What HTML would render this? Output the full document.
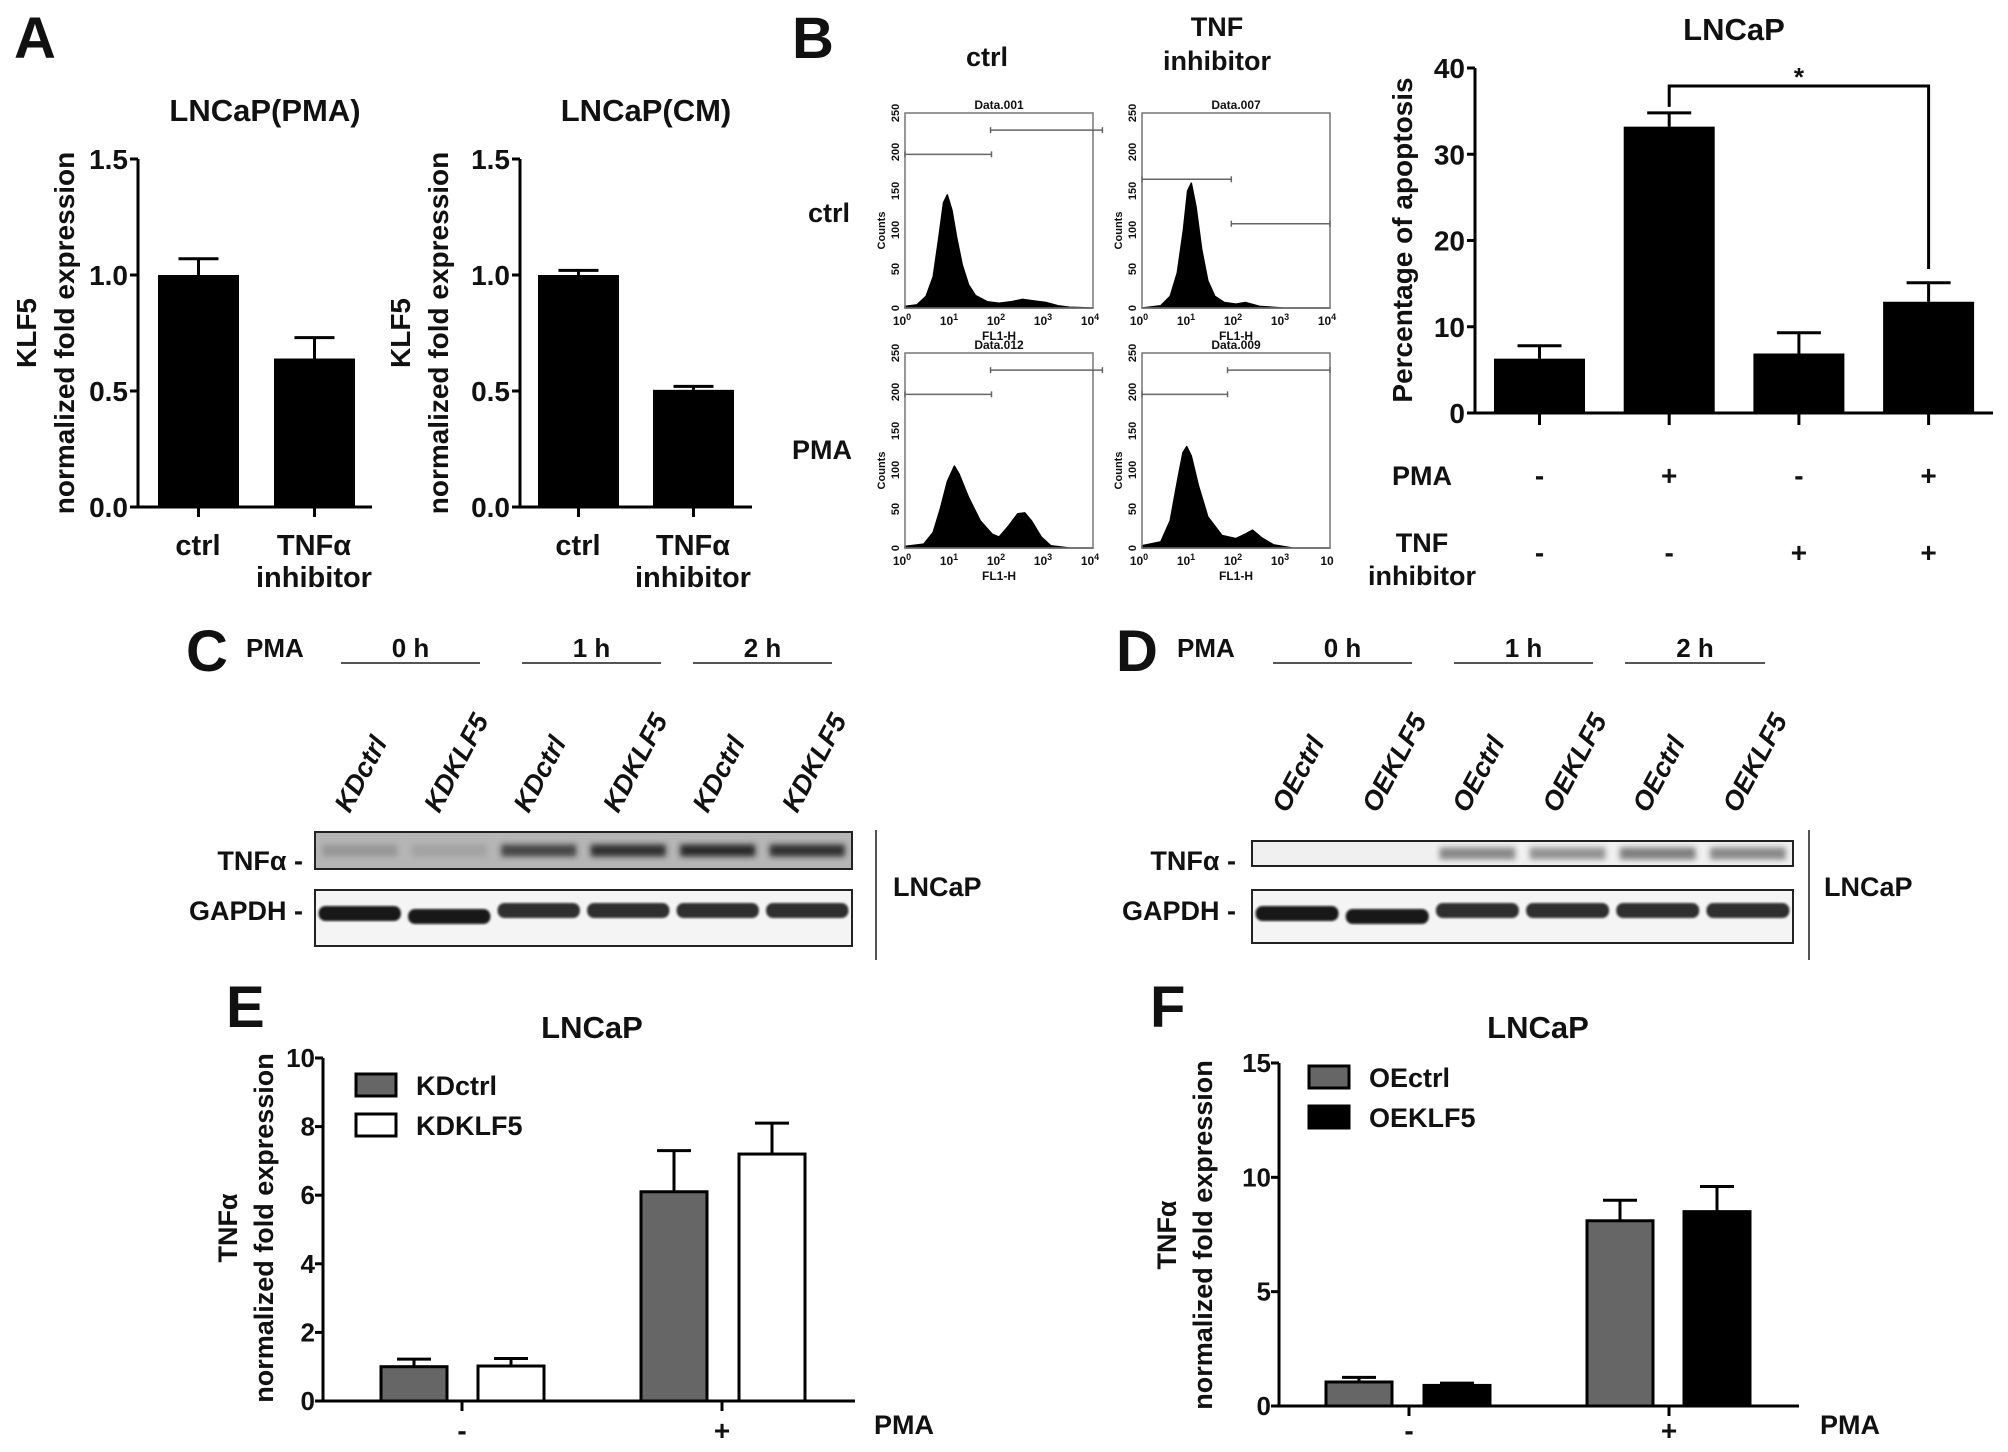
<!DOCTYPE html>
<html><head><meta charset="utf-8"><style>
html,body{margin:0;padding:0;background:#fff}
svg{display:block}
text{font-family:"Liberation Sans",Arial,sans-serif;font-weight:bold;fill:#111}
</style></head><body>
<svg id="fig" xmlns="http://www.w3.org/2000/svg" width="2008" height="1452" viewBox="0 0 2008 1452">
<defs>
<filter id="blur3" x="-20%" y="-50%" width="140%" height="200%"><feGaussianBlur stdDeviation="3"/></filter>
<filter id="blur1"><feGaussianBlur stdDeviation="1"/></filter>
</defs>
<g id="root"></g>
</svg>
<script>
// ---------- data ----------
var aCats = ["ctrl", "TNFα inhibitor"];
var aPmaVals = [1.0, 0.64];
var aPmaErr = [0.07, 0.09];
var aCmVals = [1.0, 0.505];
var aCmErr = [0.02, 0.015];
var aTicks = [0, 0.5, 1.0, 1.5];
var aTickLabels = ["0.0", "0.5", "1.0", "1.5"];

var apoVals = [6.3, 33.2, 6.9, 12.9];
var apoErr = [1.5, 1.6, 2.4, 2.2];
var apoPma = ["-", "+", "-", "+"];
var apoTnf = ["-", "-", "+", "+"];
var apoTicks = [0, 10, 20, 30, 40];

var eGroups = ["-", "+"];
var eSeries = ["KDctrl", "KDKLF5"];
var eVals0 = [1.0, 6.1];
var eErr0 = [0.22, 1.2];
var eVals1 = [1.02, 7.2];
var eErr1 = [0.22, 0.9];
var eTicks = [0, 2, 4, 6, 8, 10];

var fSeries = ["OEctrl", "OEKLF5"];
var fVals0 = [1.05, 8.1];
var fErr0 = [0.2, 0.9];
var fVals1 = [0.9, 8.5];
var fErr1 = [0.1, 1.1];
var fTicks = [0, 5, 10, 15];

// flow histograms (log10 FL1-H position, counts)
var h1x = [0, 0.25, 0.45, 0.6, 0.72, 0.82, 0.9, 1.0, 1.1, 1.22, 1.35, 1.5, 1.75, 2.0, 2.25, 2.5, 2.75, 3.0, 3.25, 3.5, 4];
var h1y = [2, 4, 15, 40, 90, 135, 145, 125, 90, 55, 30, 16, 8, 6, 8, 11, 9, 7, 3, 1, 0];
var h2x = [0, 0.4, 0.6, 0.75, 0.88, 0.97, 1.05, 1.15, 1.27, 1.4, 1.55, 1.75, 2.0, 2.2, 2.5, 3.0, 4];
var h2y = [0, 3, 15, 45, 100, 150, 160, 130, 75, 35, 15, 7, 5, 7, 2, 0, 0];
var h3x = [0, 0.4, 0.6, 0.75, 0.9, 1.05, 1.15, 1.35, 1.6, 1.85, 2.0, 2.2, 2.4, 2.55, 2.7, 2.9, 3.1, 3.5, 4];
var h3y = [2, 5, 20, 50, 85, 105, 95, 65, 35, 18, 14, 28, 44, 45, 34, 14, 3, 0, 0];
var h4x = [0, 0.4, 0.6, 0.75, 0.87, 0.95, 1.05, 1.2, 1.4, 1.7, 2.0, 2.2, 2.35, 2.55, 2.8, 3.2, 4];
var h4y = [3, 8, 35, 85, 122, 130, 118, 80, 40, 16, 12, 18, 23, 13, 4, 0, 0];

// ---------- helpers ----------
var NS = "http://www.w3.org/2000/svg";
var root = document.getElementById("root");
function el(tag, attrs, parent) {
  var e = document.createElementNS(NS, tag);
  for (var k in attrs) e.setAttribute(k, attrs[k]);
  (parent || root).appendChild(e);
  return e;
}
function txt(s, x, y, size, anchor, parent, extra) {
  var t = el("text", {x: x, y: y, "font-size": size, "text-anchor": anchor || "middle"}, parent);
  if (extra) for (var k in extra) t.setAttribute(k, extra[k]);
  t.textContent = s;
  return t;
}
function scale(d0, d1, r0, r1) { return function (v) { return r0 + (v - d0) / (d1 - d0) * (r1 - r0); }; }

// ---------- panel letters ----------
[["A", 14, 58], ["B", 792, 58], ["C", 186, 671], ["D", 1116, 671], ["E", 226, 1027], ["F", 1150, 1027]].forEach(function (p) {
  var t = txt(p[0], p[1], p[2], 58, "start");
  
  
});

// ---------- panel A ----------
function panelA(name, title, ax, axEnd, vals, errs, barX, yTitleX) {
  var g = el("g", {});
  
  
  var y = scale(0, 1.5, 507, 159);
  var tt = txt(title, (ax + axEnd) / 2 + 10, 121, 31, "middle", g);
  
  
  el("line", {x1: ax, y1: y(1.5), x2: ax, y2: y(0), stroke: "#000", "stroke-width": 3}, g);
  el("line", {x1: ax, y1: y(0), x2: axEnd, y2: y(0), stroke: "#000", "stroke-width": 3}, g);
  aTicks.forEach(function (v, i) {
    el("line", {x1: ax - 8, y1: y(v), x2: ax, y2: y(v), stroke: "#000", "stroke-width": 3}, g);
    var l = txt(aTickLabels[i], ax - 10, y(v) + 10, 28, "end", g);
    
    
  });
  vals.forEach(function (v, i) {
    var x0 = barX[i], w = 81, cx = x0 + w / 2;
    var b = el("rect", {x: x0, y: y(v), width: w, height: y(0) - y(v), fill: "#000"}, g);
    
    
    el("line", {x1: cx, y1: y(v), x2: cx, y2: y(v + errs[i]), stroke: "#000", "stroke-width": 3}, g);
    el("line", {x1: cx - 20, y1: y(v + errs[i]), x2: cx + 20, y2: y(v + errs[i]), stroke: "#000", "stroke-width": 3}, g);
    el("line", {x1: cx, y1: y(0), x2: cx, y2: y(0) + 10, stroke: "#000", "stroke-width": 3}, g);
  });
  var c1 = txt("ctrl", barX[0] + 40, 555, 29, "middle", g);
  
  
  var c2 = txt("TNFα", barX[1] + 40, 555, 29, "middle", g);
  
  
  var c3 = txt("inhibitor", barX[1] + 40, 587, 29, "middle", g);
  
  
  var yt = el("text", {transform: "translate(" + yTitleX + ",333) rotate(-90)", "font-size": 28, "text-anchor": "middle"}, g);
  
  
  var ts1 = el("tspan", {x: 0, y: 0}, yt); ts1.textContent = "KLF5";
  var ts2 = el("tspan", {x: 0, y: 38}, yt); ts2.textContent = "normalized fold expression";
}
panelA("chart-a-pma", "LNCaP(PMA)", 138, 372, aPmaVals, aPmaErr, [158, 274], 36);
panelA("chart-a-cm", "LNCaP(CM)", 520, 752, aCmVals, aCmErr, [538, 653], 410);

// ---------- flow plots ----------
function flow(name, bx, by, title, hx, hy, gates, lastLabel) {
  var g = el("g", {});
  
  
  var W = 188, H = 195;
  var sx = scale(0, 4, bx, bx + W), sy = scale(0, 250, by + H, by);
  var d = "M" + sx(hx[0]) + "," + sy(0);
  hx.forEach(function (v, i) { d += " L" + sx(v).toFixed(1) + "," + sy(hy[i]).toFixed(1); });
  d += " L" + sx(4) + "," + sy(0) + "Z";
  var p = el("path", {d: d, fill: "#000", stroke: "#000", "stroke-width": 1.5, "stroke-linejoin": "round"}, g);
  
  
  el("rect", {x: bx, y: by, width: W, height: H, fill: "none", stroke: "#777", "stroke-width": 1.5}, g);
  gates.forEach(function (gt) {
    el("line", {x1: sx(gt[1]), y1: sy(gt[0]), x2: sx(gt[2]), y2: sy(gt[0]), stroke: "#666", "stroke-width": 1.5}, g);
    el("line", {x1: sx(gt[1]), y1: sy(gt[0]) - 3, x2: sx(gt[1]), y2: sy(gt[0]) + 3, stroke: "#666", "stroke-width": 1.5}, g);
    el("line", {x1: sx(gt[2]), y1: sy(gt[0]) - 3, x2: sx(gt[2]), y2: sy(gt[0]) + 3, stroke: "#666", "stroke-width": 1.5}, g);
  });
  var t = txt(title, bx + W / 2, by - 4, 12, "middle", g, {"font-weight": "normal"});
  
  
  [0, 50, 100, 150, 200, 250].forEach(function (v) {
    var l = el("text", {transform: "translate(" + (bx - 6) + "," + sy(v) + ") rotate(-90)", "font-size": 11, "text-anchor": "middle", "font-weight": "normal", fill: "#444"}, g);
    l.textContent = String(v);
  });
  var c = el("text", {transform: "translate(" + (bx - 20) + "," + (by + H / 2 + 20) + ") rotate(-90)", "font-size": 11, "text-anchor": "middle", "font-weight": "normal"}, g);
  c.textContent = "Counts";
  [0, 1, 2, 3, 4].forEach(function (k) {
    var l = el("text", {x: sx(k) - 3, y: by + H + 17, "font-size": 12, "text-anchor": "middle", "font-weight": "normal"}, g);
    if (k === 4 && lastLabel) { l.textContent = "10"; return; }
    var a = el("tspan", {}, l); a.textContent = "10";
    var b = el("tspan", {dy: -5, "font-size": 9}, l); b.textContent = String(k);
  });
  var fl = txt("FL1-H", bx + W / 2, by + H + 32, 12, "middle", g, {"font-weight": "normal"});
  
  
}
flow("flow-ctrl-ctrl", 905, 113, "Data.001", h1x, h1y, [[197, 0, 1.84], [228, 1.82, 4.2]]);
flow("flow-ctrl-tnf", 1142, 113, "Data.007", h2x, h2y, [[165, 0, 1.9], [108, 1.9, 4]]);
flow("flow-pma-ctrl", 905, 353, "Data.012", h3x, h3y, [[197, 0, 1.84], [228, 1.82, 4.2]]);
flow("flow-pma-tnf", 1142, 353, "Data.009", h4x, h4y, [[197, 0, 1.82], [228, 1.82, 4]], true);
[["ctrl", 987, 66, "col-label-ctrl"], ["TNF", 1217, 36, "col-label-tnf"], ["inhibitor", 1217, 70, "col-label-inhibitor"], ["ctrl", 829, 222, "row-label-ctrl"], ["PMA", 822, 459, "row-label-pma"]].forEach(function (a) {
  var t = txt(a[0], a[1], a[2], 27, "middle");
  
  
});

// ---------- apoptosis chart ----------
(function () {
  var g = el("g", {});
  
  
  var ax = 1475, axEnd = 1993, y = scale(0, 40, 413, 68);
  var bw = 91, bx0 = 1494, gap = 129.7;
  var t = txt("LNCaP", 1734, 40, 31, "middle", g);
  
  
  el("line", {x1: ax, y1: y(40), x2: ax, y2: y(0), stroke: "#000", "stroke-width": 3}, g);
  el("line", {x1: ax, y1: y(0), x2: axEnd, y2: y(0), stroke: "#000", "stroke-width": 3}, g);
  apoTicks.forEach(function (v) {
    el("line", {x1: ax - 8, y1: y(v), x2: ax, y2: y(v), stroke: "#000", "stroke-width": 3}, g);
    var l = txt(String(v), ax - 10, y(v) + 10, 28, "end", g);
    
    
  });
  var cxs = [];
  apoVals.forEach(function (v, i) {
    var x0 = bx0 + i * gap, cx = x0 + bw / 2; cxs.push(cx);
    var b = el("rect", {x: x0, y: y(v), width: bw, height: y(0) - y(v), fill: "#000"}, g);
    
    
    var e = y(v + apoErr[i]);
    el("line", {x1: cx, y1: y(v), x2: cx, y2: e, stroke: "#000", "stroke-width": 3}, g);
    el("line", {x1: cx - 22, y1: e, x2: cx + 22, y2: e, stroke: "#000", "stroke-width": 3}, g);
    el("line", {x1: cx, y1: y(0), x2: cx, y2: y(0) + 12, stroke: "#000", "stroke-width": 3}, g);
    txt(apoPma[i], cx, 485, 28, "middle", g);
    txt(apoTnf[i], cx, 562, 28, "middle", g);
  });
  var br = el("path", {d: "M" + cxs[1] + "," + (y(apoVals[1] + apoErr[1]) - 6) + " V86 H" + cxs[3] + " V269", fill: "none", stroke: "#000", "stroke-width": 3}, g);
  
  
  txt("*", (cxs[1] + cxs[3]) / 2, 86, 26, "middle", g);
  var yt = el("text", {transform: "translate(1412,240) rotate(-90)", "font-size": 28, "text-anchor": "middle"}, g);
  
  
  yt.textContent = "Percentage of apoptosis";
  txt("PMA", 1422, 485, 27, "middle", g);
  txt("TNF", 1422, 552, 27, "middle", g);
  txt("inhibitor", 1422, 585, 27, "middle", g);
})();

// ---------- blots ----------
function blot(name, letter, x0, x1, tnfY0, tnfY1, labelX, lanes, lineY, lineXs, lineLabels, pmaX, tnfBands, light) {
  var g = el("g", {});
  
  
  txt("PMA", pmaX, 657, 26, "start", g);
  lineXs.forEach(function (lx, i) {
    el("line", {x1: lx[0], y1: lineY, x2: lx[1], y2: lineY, stroke: "#555", "stroke-width": 2}, g);
    txt(lineLabels[i], (lx[0] + lx[1]) / 2, 657, 26, "middle", g);
  });
  var lw = (x1 - x0) / 6;
  lanes.forEach(function (ln, i) {
    var cx = x0 + lw * (i + 0.5) - 10;
    var t = el("text", {transform: "translate(" + cx + ",814) rotate(-62)", "font-size": 27, "text-anchor": "start", "font-style": "italic"}, g);
    
    
    t.textContent = ln;
  });
  var tb = el("rect", {x: x0, y: tnfY0, width: x1 - x0, height: tnfY1 - tnfY0, fill: light ? "#f0f0f0" : "#b5b5b5", stroke: "#222", "stroke-width": 2}, g);
  
  
  var mid = (tnfY0 + tnfY1) / 2;
  tnfBands.forEach(function (op, i) {
    var cx = x0 + lw * (i + 0.5);
    el("rect", {x: cx - lw * 0.42, y: mid - 6, width: lw * 0.84, height: 12, fill: "#222", opacity: op, filter: "url(#blur3)"}, g);
  });
  var gy0 = 890, gy1 = (light ? 943 : 946);
  var gb = el("rect", {x: x0, y: gy0, width: x1 - x0, height: gy1 - gy0, fill: "#f4f4f4", stroke: "#222", "stroke-width": 2}, g);
  
  
  for (var i = 0; i < 6; i++) {
    var cx = x0 + lw * (i + 0.5);
    var off = (i === 0 ? 3 : (i === 1 ? 6 : 0));
    el("rect", {x: cx - lw * 0.46, y: 903 + off, width: lw * 0.92, height: 15, rx: 7, fill: "#111", opacity: i < 2 ? 0.95 : 0.85, filter: "url(#blur1)"}, g);
  }
  txt("TNFα -", labelX, 870, 27, "end", g);
  txt("GAPDH -", labelX, 920, 27, "end", g);
  el("line", {x1: x1 + 24 - (light ? 8 : 0), y1: 830, x2: x1 + 24 - (light ? 8 : 0), y2: 960, stroke: "#555", "stroke-width": 2}, g);
  txt("LNCaP", x1 + 41 - (light ? 10 : 0), 896, 27, "start", g);
}
blot("blot-c", "C", 315, 852, 832, 869, 303, ["KDctrl", "KDKLF5", "KDctrl", "KDKLF5", "KDctrl", "KDKLF5"], 663,
  [[341, 480], [522, 661], [693, 832]], ["0 h", "1 h", "2 h"], 246, [0.2, 0.12, 0.75, 0.9, 0.95, 0.9], false);
blot("blot-d", "D", 1252, 1793, 841, 866, 1236, ["OEctrl", "OEKLF5", "OEctrl", "OEKLF5", "OEctrl", "OEKLF5"], 663,
  [[1273, 1412], [1454, 1593], [1625, 1765]], ["0 h", "1 h", "2 h"], 1177, [0, 0, 0.5, 0.45, 0.55, 0.5], true);

// ---------- grouped charts E/F ----------
function grouped(name, ax, axEnd, y0px, ytop, maxV, ticks, series, v0, e0, v1, e1, bars, fills, strokes, groupX, legX, legY, pmaX, yTitleX, yTitleY, titleX) {
  var g = el("g", {});
  
  
  var y = scale(0, maxV, y0px, ytop);
  var t = txt("LNCaP", titleX, 1038, 31, "middle", g);
  
  
  el("line", {x1: ax, y1: y(maxV), x2: ax, y2: y(0), stroke: "#000", "stroke-width": 3}, g);
  el("line", {x1: ax, y1: y(0), x2: axEnd, y2: y(0), stroke: "#000", "stroke-width": 3}, g);
  ticks.forEach(function (v) {
    el("line", {x1: ax - 8, y1: y(v), x2: ax, y2: y(v), stroke: "#000", "stroke-width": 3}, g);
    var l = txt(String(v), ax - 8, y(v) + 9, 26, "end", g);
    
    
  });
  var sets = [[v0, e0], [v1, e1]];
  sets.forEach(function (s, si) {
    s[0].forEach(function (v, gi) {
      var bx = bars[gi * 2 + si], w = 66, cx = bx + w / 2;
      var e = y(v + s[1][gi]);
      el("line", {x1: cx, y1: y(v), x2: cx, y2: e, stroke: "#000", "stroke-width": 3}, g);
      el("line", {x1: cx - 17, y1: e, x2: cx + 17, y2: e, stroke: "#000", "stroke-width": 3}, g);
      var b = el("rect", {x: bx, y: y(v), width: w, height: y(0) - y(v), fill: fills[si], stroke: "#000", "stroke-width": 3}, g);
      
      
    });
  });
  groupX.forEach(function (gx, i) {
    el("line", {x1: gx, y1: y(0), x2: gx, y2: y(0) + 10, stroke: "#000", "stroke-width": 3}, g);
    txt(eGroups[i], gx, 1440, 28, "middle", g);
  });
  txt("PMA", pmaX, 1434, 27, "start", g);
  series.forEach(function (s, i) {
    var le = el("g", {}, g);
    
    
    el("rect", {x: legX, y: legY + i * 40, width: 40, height: 22, fill: fills[i], stroke: "#000", "stroke-width": 3}, le);
    txt(s, legX + 60, legY + i * 40 + 21, 27, "start", le);
  });
  var yt = el("text", {transform: "translate(" + yTitleX + "," + yTitleY + ") rotate(-90)", "font-size": 27, "text-anchor": "middle"}, g);
  
  
  var a = el("tspan", {x: 0, y: 0}, yt); a.textContent = "TNFα";
  var b2 = el("tspan", {x: 0, y: 36}, yt); b2.textContent = "normalized fold expression";
}
grouped("chart-e", 323, 855, 1401, 1058, 10, eTicks, eSeries, eVals0, eErr0, eVals1, eErr1,
  [381, 478, 641, 739], ["#666", "#fff"], null, [462, 722], 356, 1074, 874, 237, 1228, 592);
grouped("chart-f", 1279, 1799, 1406, 1063, 15, fTicks, fSeries, fVals0, fErr0, fVals1, fErr1,
  [1326, 1424, 1587, 1684], ["#666", "#000"], null, [1409, 1669], 1309, 1066, 1820, 1176, 1235, 1538);
</script>
</body></html>
